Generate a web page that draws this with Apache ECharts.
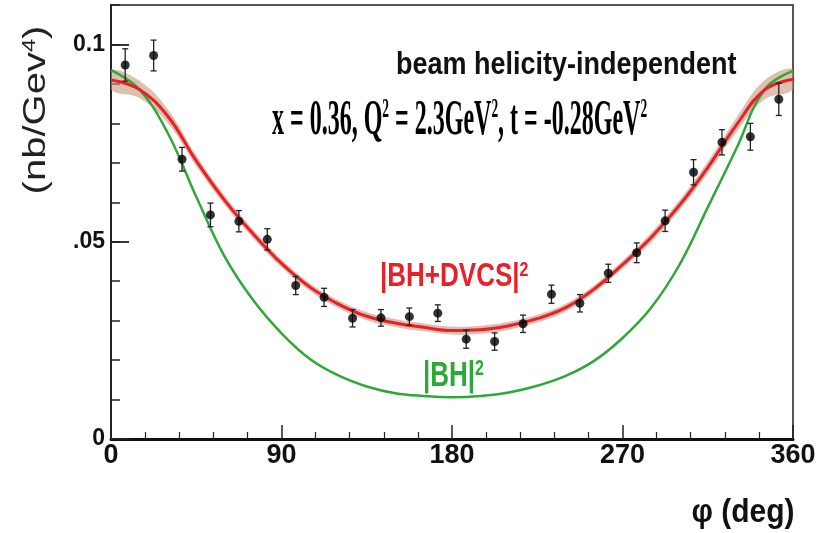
<!DOCTYPE html>
<html>
<head>
<meta charset="utf-8">
<script src="https://cdn.jsdelivr.net/npm/echarts@6/dist/echarts.min.js"></script>
<style>
  html, body { margin: 0; padding: 0; background: #fff; }
  #chart { width: 821px; height: 533px; }
</style>
</head>
<body>
<div id="chart"></div>
<script>
// measured points (phi bins, deg)
const phiBins = [7.5, 22.5, 37.5, 52.5, 67.5, 82.5, 97.5, 112.5, 127.5, 142.5, 157.5, 172.5,
  187.5, 202.5, 217.5, 232.5, 247.5, 262.5, 277.5, 292.5, 307.5, 322.5, 337.5, 352.5];
const xsec = [0.0948, 0.0972, 0.0709, 0.0568, 0.0552, 0.0506, 0.0389, 0.0359, 0.0306, 0.0307, 0.0310, 0.0319,
  0.0253, 0.0247, 0.0292, 0.0367, 0.0344, 0.0420, 0.0472, 0.0553, 0.0676, 0.0752, 0.0766, 0.0861];
const xsecErr = [0.0041, 0.0039, 0.0030, 0.0030, 0.0027, 0.0027, 0.0023, 0.0023, 0.0022, 0.0021, 0.0022, 0.0021,
  0.0023, 0.0022, 0.0022, 0.0023, 0.0022, 0.0023, 0.0025, 0.0027, 0.0032, 0.0032, 0.0034, 0.0041];

// model curves, read every 15 deg
const phiCurve = [0, 15, 30, 45, 60, 75, 90, 105, 120, 135, 150, 165, 180,
  195, 210, 225, 240, 255, 270, 285, 300, 315, 330, 345, 360];
const bhDvcs = [0.0910, 0.0886, 0.0818, 0.0705, 0.0605, 0.0520, 0.0445, 0.0385, 0.0342, 0.0311, 0.0294, 0.0283, 0.0275,
  0.0277, 0.0287, 0.0305, 0.0333, 0.0380, 0.0442, 0.0510, 0.0592, 0.0688, 0.0795, 0.0885, 0.0912];
const bhDvcsBand = [0.0025, 0.0022, 0.0018, 0.0014, 0.0012, 0.0011, 0.0010, 0.0010, 0.0010, 0.0010, 0.0010, 0.0010, 0.0010,
  0.0010, 0.0010, 0.0010, 0.0010, 0.0010, 0.0010, 0.0012, 0.0013, 0.0015, 0.0018, 0.0024, 0.0026];
const bhOnly = [0.0935, 0.0886, 0.0775, 0.0614, 0.0462, 0.0352, 0.0268, 0.0203, 0.0161, 0.0133, 0.0116, 0.0109, 0.0106,
  0.0109, 0.0118, 0.0135, 0.0160, 0.0198, 0.0256, 0.0332, 0.0441, 0.0587, 0.0735, 0.0886, 0.0933];

const yTickValues = [0, 0.05, 0.1];
const yTickLabels = ['0', '.05', '0.1'];

const RED = '#e8202a';
const GREEN = '#2fa83a';
const SMOOTH = 0.4;

const chart = echarts.init(document.getElementById('chart'));

const pts = phiBins.map((p, i) => [p, xsec[i], xsecErr[i]]);

chart.setOption({
  animation: false,
  grid: {
    left: 111, right: 28, top: 5, bottom: 94,
    show: true, borderColor: '#555', borderWidth: 2
  },
  xAxis: {
    type: 'value',
    min: 0, max: 360, interval: 90,
    axisLine: { lineStyle: { color: '#111', width: 3 } },
    axisTick: { inside: true, length: 14, lineStyle: { color: '#222', width: 1.5 } },
    minorTick: { show: true, splitNumber: 5, length: 7, lineStyle: { color: '#222', width: 1.2 } },
    splitLine: { show: false },
    axisLabel: {
      margin: 3, color: '#111', fontSize: 27, fontWeight: 'bold',
      fontFamily: '"Liberation Sans", Arial, sans-serif'
    }
  },
  yAxis: [
    {
      // minor ticks every 0.01
      type: 'value', min: 0, max: 0.11, interval: 0.01,
      axisLine: { show: true, lineStyle: { color: '#222', width: 2 } },
      axisTick: { inside: true, length: 9, lineStyle: { color: '#222', width: 1.5 } },
      axisLabel: { show: false },
      splitLine: { show: false }
    },
    {
      // major ticks + labels
      type: 'value', min: 0, max: 0.11, position: 'left',
      axisLine: { show: false },
      axisTick: { show: true, inside: true, length: 18, customValues: yTickValues, lineStyle: { color: '#222', width: 1.8 } },
      axisLabel: {
        customValues: yTickValues, margin: 6, color: '#111', fontSize: 23, fontWeight: 'bold',
        fontFamily: '"Liberation Sans", Arial, sans-serif',
        formatter: (v) => {
          const i = yTickValues.findIndex((t) => Math.abs(t - v) < 1e-6);
          return i >= 0 ? yTickLabels[i] : '';
        }
      },
      splitLine: { show: false }
    }
  ],
  series: [
    {
      // uncertainty band of the BH+DVCS fit
      name: 'band', type: 'custom', data: [[0, 0]], z: 1, clip: true, silent: true,
      renderItem: (params, api) => {
        const upper = phiCurve.map((p, i) => api.coord([p, bhDvcs[i] + bhDvcsBand[i]]));
        const lower = phiCurve.map((p, i) => api.coord([p, bhDvcs[i] - bhDvcsBand[i]])).reverse();
        return {
          type: 'polygon',
          shape: { points: upper.concat(lower), smooth: SMOOTH },
          style: { fill: 'rgba(200,150,120,0.6)' }
        };
      }
    },
    {
      name: '|BH|^2', type: 'line', data: phiCurve.map((p, i) => [p, bhOnly[i]]), smooth: SMOOTH,
      symbol: 'none', lineStyle: { color: GREEN, width: 2.5 }, z: 2
    },
    {
      name: '|BH+DVCS|^2', type: 'line', data: phiCurve.map((p, i) => [p, bhDvcs[i]]), smooth: SMOOTH,
      symbol: 'none', lineStyle: { color: RED, width: 3 }, z: 3
    },
    {
      name: 'errors', type: 'custom', data: pts, z: 4,
      renderItem: (params, api) => {
        const x = api.value(0), y = api.value(1), e = api.value(2);
        const lo = api.coord([x, y - e]);
        const hi = api.coord([x, y + e]);
        const st = { stroke: '#222', lineWidth: 1.3 };
        return {
          type: 'group',
          children: [
            { type: 'line', shape: { x1: lo[0], y1: lo[1], x2: hi[0], y2: hi[1] }, style: st },
            { type: 'line', shape: { x1: lo[0] - 3, y1: lo[1], x2: lo[0] + 3, y2: lo[1] }, style: st },
            { type: 'line', shape: { x1: hi[0] - 3, y1: hi[1], x2: hi[0] + 3, y2: hi[1] }, style: st }
          ]
        };
      }
    },
    {
      name: 'data', type: 'scatter', data: pts.map((d) => [d[0], d[1]]),
      symbol: 'circle', symbolSize: 9, itemStyle: { color: '#000' }, z: 5
    }
  ],
  graphic: [
    {
      type: 'text', x: 396, y: 65, scaleY: 1.17, z: 10,
      style: {
        text: 'beam helicity-independent', fill: '#111',
        font: 'bold 27px "Liberation Sans", Arial, sans-serif', verticalAlign: 'middle'
      }
    },
    {
      type: 'text', x: 272, y: 121, scaleX: 0.48, z: 10,
      style: {
        text: 'x = 0.36, Q{s|2} = 2.3GeV{s|2}, t = -0.28GeV{s|2}', fill: '#000',
        font: 'bold 50px "Liberation Serif", "DejaVu Serif", serif', verticalAlign: 'middle',
        rich: { s: { fontSize: 28, fontWeight: 'bold', fontFamily: '"Liberation Serif", serif', verticalAlign: 'top', fill: '#000' } }
      }
    },
    {
      type: 'text', x: 380, y: 277, scaleY: 1.25, z: 10,
      style: {
        text: '|BH+DVCS|{s|2}', fill: RED,
        font: 'bold 26px "Liberation Sans", Arial, sans-serif', verticalAlign: 'middle',
        rich: { s: { fontSize: 16, fontWeight: 'bold', fontFamily: '"Liberation Sans", Arial', verticalAlign: 'top', fill: RED } }
      }
    },
    {
      type: 'text', x: 423, y: 376, scaleY: 1.35, z: 10,
      style: {
        text: '|BH|{s|2}', fill: GREEN,
        font: 'bold 26px "Liberation Sans", Arial, sans-serif', verticalAlign: 'middle',
        rich: { s: { fontSize: 16, fontWeight: 'bold', fontFamily: '"Liberation Sans", Arial', verticalAlign: 'top', fill: GREEN } }
      }
    },
    {
      type: 'text', x: 36, y: 110, rotation: Math.PI / 2, scaleX: 1.25, z: 10,
      style: {
        text: '(nb/Gev{s|4})', fill: '#222',
        font: '32px "Liberation Sans", Arial, sans-serif', align: 'center', verticalAlign: 'middle',
        rich: { s: { fontSize: 19, fontFamily: '"Liberation Sans", Arial', verticalAlign: 'top', fill: '#222' } }
      }
    },
    {
      type: 'text', x: 743, y: 513, scaleY: 1.1, z: 10,
      style: {
        text: 'φ (deg)', fill: '#111',
        font: 'bold 30px "Liberation Sans", Arial, sans-serif', align: 'center', verticalAlign: 'middle'
      }
    }
  ]
});
</script>
</body>
</html>
